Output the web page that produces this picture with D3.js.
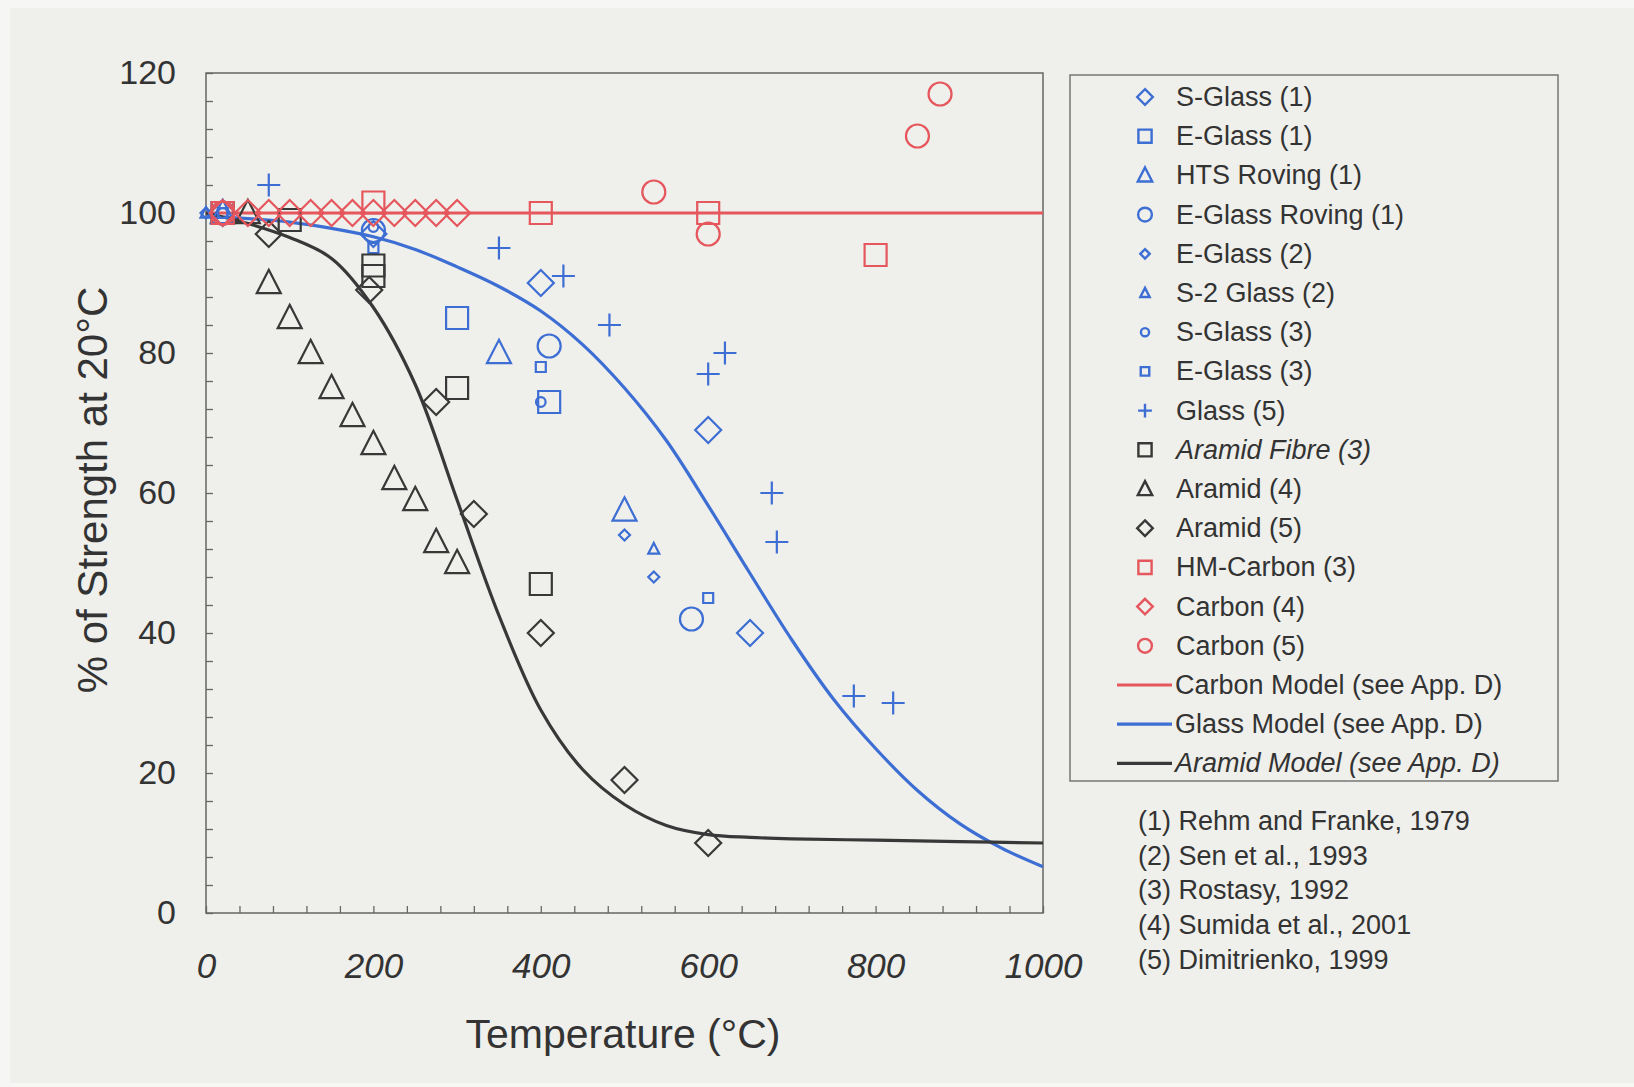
<!DOCTYPE html>
<html>
<head>
<meta charset="utf-8">
<script src="https://cdn.jsdelivr.net/npm/d3@7"></script>
<style>
  html,body{margin:0;padding:0;background:#f6f6f4;}
  svg{display:block;}
  text{font-family:"Liberation Sans",Arial,sans-serif;fill:#333;}
</style>
</head>
<body>
<svg id="chart" width="1634" height="1087"></svg>
<script>
// ---------------- DATA ----------------
const xTickLabels = [0, 200, 400, 600, 800, 1000];
const yTickLabels = [0, 20, 40, 60, 80, 100, 120];

// measured points [temperature °C, % of strength at 20°C]
const sGlass1       = [[20,100],[200,97],[400,90],[600,69],[650,40]];
const eGlass1       = [[20,100],[300,85],[410,73]];
const htsRoving1    = [[20,100],[350,80],[500,57.5]];
const eGlassRoving1 = [[20,100],[200,97.5],[410,81],[580,42]];
const eGlass2       = [[0,100],[500,54],[535,48]];
const s2Glass2      = [[0,100],[535,52]];
const sGlass3       = [[20,100],[200,98],[400,73]];
const eGlass3       = [[20,100],[200,95],[400,78],[600,45]];
const glass5        = [[75,104],[350,95],[427,91],[482,84],[600,77],[620,80],[676,60],[682,53],[774,31],[821,30]];
const aramidFibre3  = [[20,100],[100,99],[200,92.5],[200,91],[300,75],[400,47]];
const aramid4       = [[50,100],[75,90],[100,85],[125,80],[150,75],[175,71],[200,67],[225,62],[250,59],[275,53],[300,50]];
const aramid5       = [[75,97],[195,89],[275,73],[320,57],[400,40],[500,19],[600,10]];
const hmCarbon3     = [[20,100],[200,101.5],[400,100],[600,100],[800,94]];
const carbon4       = [[20,100],[50,100],[75,100],[100,100],[125,100],[150,100],[175,100],[200,100],[225,100],[250,100],[275,100],[300,100]];
const carbon5       = [[20,100],[535,103],[600,97],[850,111],[877,117]];

// model curves
const carbonModel = [[0,100],[1000,100]];
const glassModel  = [[0,99.5],[50,99.2],[100,98.7],[150,97.8],[200,96.6],[250,94.8],[300,92.3],[350,89.5],[400,86],[450,81.2],[500,75],[550,67.5],[600,58.2],[650,48.5],[700,39],[750,30.5],[800,23.5],[850,17.5],[900,12.8],[950,9.3],[1000,6.6]];
const aramidModel = [[0,100],[50,98.5],[100,96.5],[150,93.5],[200,86.5],[250,75.5],[300,59],[350,42.5],[400,29],[450,20.5],[500,15.5],[550,12.5],[600,11.2],[650,10.8],[700,10.6],[800,10.4],[900,10.2],[1000,10]];

const references = ["(1) Rehm and Franke, 1979","(2) Sen et al., 1993","(3) Rostasy, 1992","(4) Sumida et al., 2001","(5) Dimitrienko, 1999"];

// ---------------- STYLE ----------------
const BLUE = "#3d6ed4", RED = "#e5575d", BLACK = "#383838";

const seriesList = [
  {name:"S-Glass (1)",       data:sGlass1,       shape:"diamond",  color:BLUE},
  {name:"E-Glass (1)",       data:eGlass1,       shape:"square",   color:BLUE},
  {name:"HTS Roving (1)",    data:htsRoving1,    shape:"triangle", color:BLUE},
  {name:"E-Glass Roving (1)",data:eGlassRoving1, shape:"circle",   color:BLUE},
  {name:"E-Glass (2)",       data:eGlass2,       shape:"sdiamond", color:BLUE},
  {name:"S-2 Glass (2)",     data:s2Glass2,      shape:"striangle",color:BLUE},
  {name:"S-Glass (3)",       data:sGlass3,       shape:"scircle",  color:BLUE},
  {name:"E-Glass (3)",       data:eGlass3,       shape:"ssquare",  color:BLUE},
  {name:"Glass (5)",         data:glass5,        shape:"plus",     color:BLUE},
  {name:"Aramid Fibre (3)",  data:aramidFibre3,  shape:"square",   color:BLACK, italic:true},
  {name:"Aramid (4)",        data:aramid4,       shape:"triangle", color:BLACK},
  {name:"Aramid (5)",        data:aramid5,       shape:"diamond",  color:BLACK},
  {name:"HM-Carbon (3)",     data:hmCarbon3,     shape:"square",   color:RED},
  {name:"Carbon (4)",        data:carbon4,       shape:"diamond",  color:RED},
  {name:"Carbon (5)",        data:carbon5,       shape:"circle",   color:RED}
];
const models = [
  {name:"Carbon Model (see App. D)", data:carbonModel, color:RED},
  {name:"Glass Model (see App. D)",  data:glassModel,  color:BLUE},
  {name:"Aramid Model (see App. D)", data:aramidModel, color:BLACK, italic:true}
];

function shapePath(shape, k){
  const p = d3.path();
  let s;
  switch(shape){
    case "square": s=11*k; p.rect(-s,-s,2*s,2*s); break;
    case "ssquare": s=5*k; p.rect(-s,-s,2*s,2*s); break;
    case "diamond": s=13*k; p.moveTo(0,-s); p.lineTo(s,0); p.lineTo(0,s); p.lineTo(-s,0); p.closePath(); break;
    case "sdiamond": s=5.5*k; p.moveTo(0,-s); p.lineTo(s,0); p.lineTo(0,s); p.lineTo(-s,0); p.closePath(); break;
    case "triangle": s=12*k; p.moveTo(0,-s*1.1); p.lineTo(s,s*0.85); p.lineTo(-s,s*0.85); p.closePath(); break;
    case "striangle": s=5.5*k; p.moveTo(0,-s*1.1); p.lineTo(s,s*0.85); p.lineTo(-s,s*0.85); p.closePath(); break;
    case "circle": s=11.5*k; p.moveTo(s,0); p.arc(0,0,s,0,2*Math.PI); p.closePath(); break;
    case "scircle": s=4.8*k; p.moveTo(s,0); p.arc(0,0,s,0,2*Math.PI); p.closePath(); break;
    case "plus": s=11.5*k; p.moveTo(-s,0); p.lineTo(s,0); p.moveTo(0,-s); p.lineTo(0,s); break;
  }
  return p.toString();
}

// ---------------- CHART ----------------
const svg = d3.select("#chart");
svg.append("rect").attr("x",10).attr("y",8).attr("width",1624).attr("height",1075).attr("fill","#efefeb");

const x = d3.scaleLinear().domain([0,1000]).range([206,1043]);
const y = d3.scaleLinear().domain([0,120]).range([913,73]);

// ticks (inward)
svg.append("g").attr("transform","translate(0,913)")
  .call(d3.axisBottom(x).tickValues(d3.range(0,1001,40)).tickSize(-7).tickFormat(""))
  .call(g=>{g.select(".domain").remove(); g.selectAll("line").attr("stroke","#666").attr("stroke-width",1.3);});
svg.append("g").attr("transform","translate(206,0)")
  .call(d3.axisLeft(y).tickValues(d3.range(0,121,4)).tickSize(-7).tickFormat(""))
  .call(g=>{g.select(".domain").remove(); g.selectAll("line").attr("stroke","#666").attr("stroke-width",1.3);});

// frame
svg.append("rect").attr("x",x(0)).attr("y",y(120)).attr("width",x(1000)-x(0)).attr("height",y(0)-y(120))
  .attr("fill","none").attr("stroke","#666").attr("stroke-width",1.5);

// tick labels
svg.append("g").attr("transform","translate(0,913)")
  .call(d3.axisBottom(x).tickValues(xTickLabels).tickSize(0).tickPadding(40).tickFormat(d3.format("d")))
  .call(g=>{g.select(".domain").remove();
    g.selectAll("text").attr("font-size",35).attr("font-style","italic").attr("fill","#333")
     .attr("font-family","Liberation Sans, Arial, sans-serif");});
svg.append("g").attr("transform","translate(206,0)")
  .call(d3.axisLeft(y).tickValues(yTickLabels).tickSize(0).tickPadding(30).tickFormat(d3.format("d")))
  .call(g=>{g.select(".domain").remove();
    g.selectAll("text").attr("font-size",34).attr("fill","#333")
     .attr("font-family","Liberation Sans, Arial, sans-serif");});

// axis titles
svg.append("text").attr("transform","translate(92,490) rotate(-90)")
  .attr("text-anchor","middle").attr("dominant-baseline","central")
  .attr("font-size",42).text("% of Strength at 20°C");
svg.append("text").attr("x",623).attr("y",1034)
  .attr("text-anchor","middle").attr("dominant-baseline","central")
  .attr("font-size",41).text("Temperature (°C)");

// model lines
const line = d3.line().x(d=>x(d[0])).y(d=>y(d[1])).curve(d3.curveCatmullRom.alpha(0.5));
svg.append("g").selectAll("path").data(models).join("path")
  .attr("d",d=>line(d.data)).attr("fill","none").attr("stroke",d=>d.color).attr("stroke-width",3.2);

// markers
seriesList.forEach(s=>{
  svg.append("g").selectAll("path").data(s.data).join("path")
    .attr("transform",d=>`translate(${x(d[0])},${y(d[1])})`)
    .attr("d",shapePath(s.shape,1))
    .attr("fill","none").attr("stroke",s.color).attr("stroke-width",2.2);
});

// legend
const lg = svg.append("g");
lg.append("rect").attr("x",1070).attr("y",75).attr("width",488).attr("height",706)
  .attr("fill","none").attr("stroke","#777").attr("stroke-width",1.5);
const rowY = i => 97 + i*39.2;
seriesList.forEach((s,i)=>{
  lg.append("path").attr("transform",`translate(1145,${rowY(i)})`)
    .attr("d",shapePath(s.shape, s.shape.startsWith("s")&&s.shape!=="square"?0.85:0.6))
    .attr("fill","none").attr("stroke",s.color).attr("stroke-width",2.4);
  lg.append("text").attr("x",1176).attr("y",rowY(i)).attr("dominant-baseline","central")
    .attr("font-size",27).attr("font-style",s.italic?"italic":"normal").text(s.name);
});
models.forEach((m,j)=>{
  const i = seriesList.length + j;
  lg.append("line").attr("x1",1117).attr("x2",1172).attr("y1",rowY(i)).attr("y2",rowY(i))
    .attr("stroke",m.color).attr("stroke-width",3.2);
  lg.append("text").attr("x",1175).attr("y",rowY(i)).attr("dominant-baseline","central")
    .attr("font-size",27).attr("font-style",m.italic?"italic":"normal").text(m.name);
});

// references
svg.append("g").selectAll("text").data(references).join("text")
  .attr("x",1138).attr("y",(d,i)=>821 + i*34.7).attr("dominant-baseline","central")
  .attr("font-size",27).text(d=>d);
</script>
</body>
</html>
